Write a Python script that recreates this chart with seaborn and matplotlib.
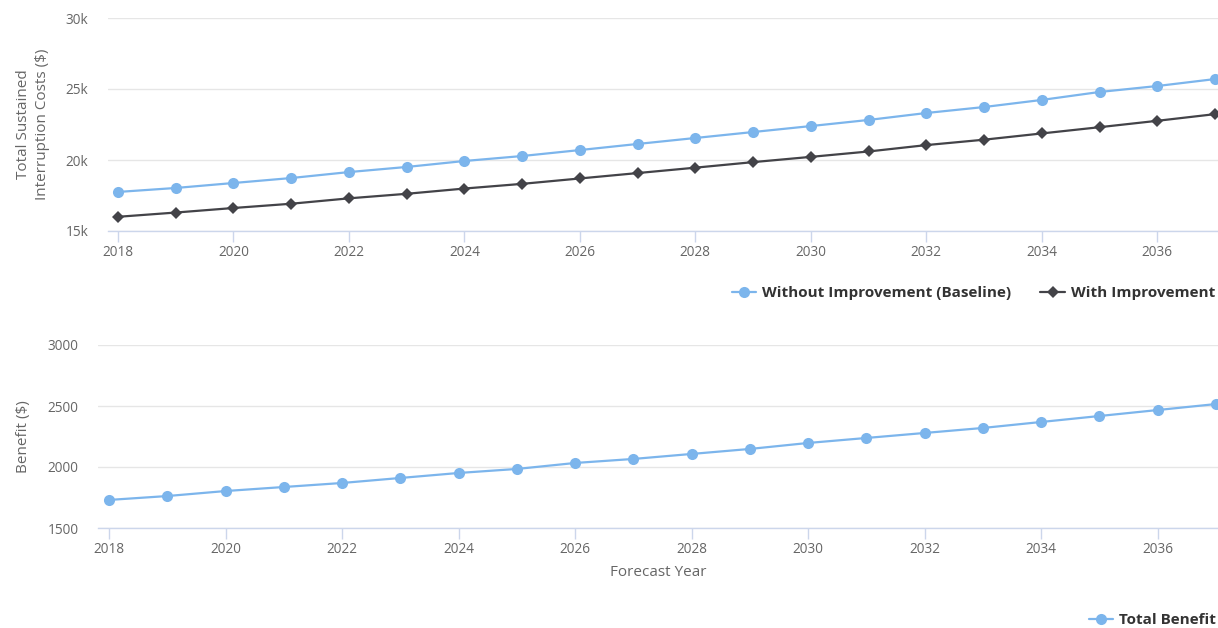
import matplotlib
matplotlib.use("Agg")
import matplotlib.pyplot as plt
import seaborn as sns
import pandas as pd
from matplotlib.lines import Line2D

years = list(range(2018, 2038))
baseline = [17750, 18030, 18380, 18730, 19150, 19510, 19930, 20280, 20700, 21130,
            21550, 21970, 22390, 22820, 23310, 23730, 24230, 24790, 25210, 25700]
with_impr = [16000, 16300, 16620, 16920, 17300, 17620, 17990, 18320, 18700, 19080,
             19460, 19850, 20220, 20600, 21050, 21430, 21870, 22310, 22760, 23230]
benefit = [1730, 1762, 1803, 1836, 1869, 1910, 1951, 1984, 2033, 2066,
           2107, 2148, 2197, 2238, 2279, 2320, 2369, 2418, 2467, 2516]

top_ticks = [15000, 20000, 25000, 30000]
top_tick_labels = ["15k", "20k", "25k", "30k"]
bot_ticks = [1500, 2000, 2500, 3000]
x_ticks = list(range(2018, 2037, 2))

sns.set_theme(style="white")
plt.rcParams['font.family'] = ['Open Sans', 'DejaVu Sans']

W, H = 1218, 628
fig = plt.figure(figsize=(W / 100, H / 100), dpi=100)

BLUE = "#7cb5ec"
DARK = "#434348"
GRID = "#e6e6e6"
AXIS = "#ccd6eb"
TXT = "#666666"
TICK_FS = 9.8
LAB_FS = 11
LEG_FS = 11

def style_axes(ax, ylim, yticks, ylabels):
    ax.set_ylim(*ylim)
    ax.set_yticks(yticks)
    ax.set_yticklabels(ylabels)
    ax.set_xticks(x_ticks)
    ax.set_xticklabels([str(t) for t in x_ticks])
    ax.grid(axis="y", color=GRID, linewidth=1)
    ax.grid(axis="x", visible=False)
    for s in ["top", "right", "left"]:
        ax.spines[s].set_visible(False)
    ax.spines["bottom"].set_color(AXIS)
    ax.spines["bottom"].set_linewidth(1)
    ax.tick_params(axis="x", length=8, width=1, color=AXIS, labelcolor=TXT,
                   labelsize=TICK_FS, pad=2, bottom=True)
    ax.tick_params(axis="y", length=0, labelcolor=TXT, labelsize=TICK_FS, pad=14)
    ax.set_axisbelow(True)

# Top panel
ax1 = fig.add_axes([108 / W, 1 - 231 / H, (W - 108) / W, 213 / H])
df_top = pd.DataFrame({"Year": years * 2,
                       "Cost": baseline + with_impr,
                       "Series": ["Without Improvement (Baseline)"] * len(years)
                                 + ["With Improvement"] * len(years)})
sns.lineplot(data=df_top, x="Year", y="Cost", hue="Series", style="Series",
             palette={"Without Improvement (Baseline)": BLUE, "With Improvement": DARK},
             markers={"Without Improvement (Baseline)": "o", "With Improvement": "D"},
             dashes=False, linewidth=1.6, markeredgewidth=0, ax=ax1, legend=False,
             clip_on=False)
for ln, ms in zip(ax1.lines, [8, 6]):
    ln.set_markersize(ms)
ax1.set_xlim(2018 - 10 / 57.7, 2037 + 3 / 57.7)
style_axes(ax1, (15000, 30000), top_ticks, top_tick_labels)
ax1.set_xlabel("")
ax1.set_ylabel("Total Sustained\nInterruption Costs ($)", color=TXT, fontsize=LAB_FS,
               labelpad=11, linespacing=1.4)

h1 = [Line2D([], [], color=BLUE, marker="o", markersize=8, markeredgewidth=0, linewidth=1.6),
      Line2D([], [], color=DARK, marker="D", markersize=6, markeredgewidth=0, linewidth=1.6)]
leg1 = fig.legend(h1, ["Without Improvement (Baseline)", "With Improvement"],
                  loc="center right", bbox_to_anchor=(1229 / W, 1 - 293 / H), ncol=2,
                  frameon=False, handlelength=1.6, handletextpad=0.4, columnspacing=1.9,
                  prop={"weight": "bold", "size": LEG_FS})
for t in leg1.get_texts():
    t.set_color("#333333")

# Bottom panel
ax2 = fig.add_axes([98 / W, 1 - 528 / H, (W - 98) / W, 183 / H])
df_bot = pd.DataFrame({"Year": years, "Benefit": benefit})
sns.lineplot(data=df_bot, x="Year", y="Benefit", color=BLUE, marker="o",
             markersize=8, markeredgewidth=0, linewidth=1.6, ax=ax2, clip_on=False)
ax2.set_xlim(2018 - 11 / 58.2, 2037 + 2 / 58.2)
style_axes(ax2, (1500, 3000), bot_ticks, [str(t) for t in bot_ticks])
ax2.set_xlabel("Forecast Year", color=TXT, fontsize=LAB_FS, labelpad=6)
ax2.set_ylabel("Benefit ($)", color=TXT, fontsize=LAB_FS, labelpad=12)

h2 = [Line2D([], [], color=BLUE, marker="o", markersize=8, markeredgewidth=0, linewidth=1.6)]
leg2 = fig.legend(h2, ["Total Benefit"], loc="center right",
                  bbox_to_anchor=(1230 / W, 1 - 620 / H), frameon=False,
                  handlelength=1.6, handletextpad=0.4,
                  prop={"weight": "bold", "size": LEG_FS})
for t in leg2.get_texts():
    t.set_color("#333333")

fig.savefig("out.png", dpi=100)
